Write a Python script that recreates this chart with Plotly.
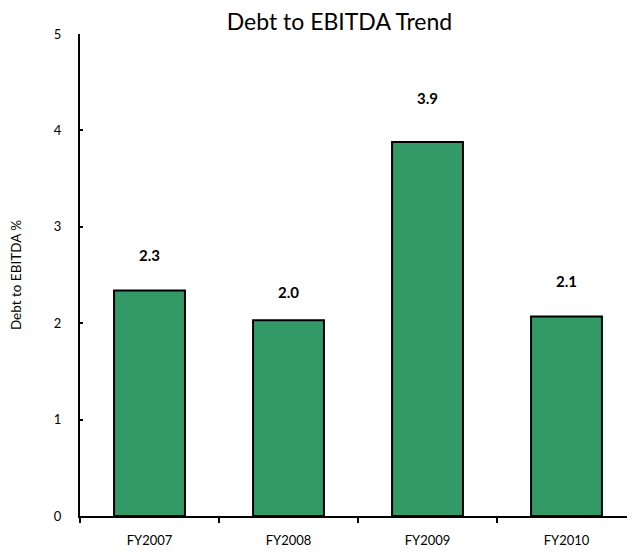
import plotly.graph_objects as go

categories = ["FY2007", "FY2008", "FY2009", "FY2010"]
values = [2.34, 2.03, 3.88, 2.07]
labels = ["2.3", "2.0", "3.9", "2.1"]
label_shift = [35, 28, 44, 35]  # style: pixel offset above bar

fig = go.Figure()
fig.add_trace(go.Bar(
    x=categories, y=values,
    marker=dict(color="#339966", line=dict(color="black", width=2)),
    width=0.51,
    hoverinfo="skip",
))
for c, v, t, s in zip(categories, values, labels, label_shift):
    fig.add_annotation(x=c, y=v, text=t, showarrow=False, yshift=s,
                       yanchor="middle",
                       font=dict(family="Lato", size=15, color="black", weight="bold"))

fig.update_layout(
    width=635, height=552,
    margin=dict(l=70, r=7, t=26, b=44),
    paper_bgcolor="white", plot_bgcolor="white",
    font=dict(family="Lato", size=13, color="black"),
    showlegend=False,
    title=dict(text="Debt to EBITDA Trend", x=0.522, xanchor="center",
               y=0.975, yanchor="middle",
               font=dict(family="Lato", size=23, color="black")),
    xaxis=dict(range=[-0.5, 3.5], showline=True, linecolor="black", linewidth=2,
               ticks="outside", tickson="boundaries", ticklen=5, tickwidth=2,
               tickcolor="black", showgrid=False, ticklabelstandoff=11,
               tickfont=dict(size=13)),
    yaxis=dict(range=[0, 5], dtick=1, showline=True, linecolor="black", linewidth=2,
               ticks="inside", ticklen=3, tickwidth=2, tickcolor="black",
               showgrid=False, zeroline=False, ticklabelstandoff=14,
               tickfont=dict(size=13),
               title=dict(text="Debt to EBITDA %", font=dict(size=13.5), standoff=29)),
)
fig.write_html("out.html")
